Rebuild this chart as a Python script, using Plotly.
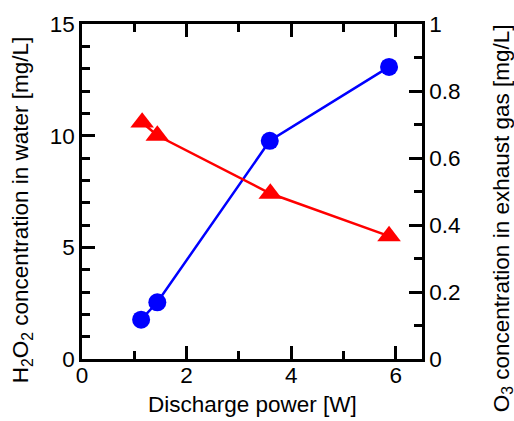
import plotly.graph_objects as go

power_h2o2 = [1.13, 1.44, 3.59, 5.87]
h2o2 = [1.76, 2.54, 9.77, 13.08]
power_o3 = [1.15, 1.44, 3.60, 5.87]
o3 = [0.706, 0.667, 0.494, 0.367]

FONT = "Liberation Sans, Arial, sans-serif"
fs = 22.5

fig = go.Figure()
fig.add_trace(go.Scatter(x=power_h2o2, y=h2o2, mode="lines+markers",
                         line=dict(color="#0000ff", width=2.5),
                         marker=dict(symbol="circle", size=18, color="#0000ff"),
                         yaxis="y", showlegend=False))
fig.add_trace(go.Scatter(x=power_o3, y=o3, mode="lines+markers",
                         line=dict(color="#ff0000", width=2.5),
                         marker=dict(symbol="triangle-up", size=20.5, color="#ff0000"),
                         yaxis="y2", showlegend=False))

axcommon = dict(showline=True, linecolor="black", linewidth=2.5, ticks="inside",
                ticklen=13, tickwidth=2.5, tickcolor="black", showgrid=False,
                zeroline=False, tickfont=dict(family=FONT, size=fs, color="black"))

fig.update_layout(
    width=514, height=421,
    margin=dict(l=82, r=92, t=21, b=62),
    paper_bgcolor="white", plot_bgcolor="white",
    font=dict(family=FONT, size=fs, color="black"),
    xaxis=dict(range=[0, 6.5], dtick=2, tick0=0, mirror="ticks", ticklabelstandoff=-6,
               minor=dict(dtick=1, ticks="inside", ticklen=8, tickwidth=2.5, tickcolor="black"),
               **axcommon),
    yaxis=dict(range=[0, 15], dtick=5, tick0=0,
               minor=dict(dtick=1, ticks="inside", ticklen=8, tickwidth=2.5, tickcolor="black"),
               **axcommon),
    yaxis2=dict(range=[0, 1], dtick=0.2, tick0=0, overlaying="y", side="right",
                minor=dict(dtick=0.1, ticks="inside", ticklen=8, tickwidth=2.5, tickcolor="black"),
                **axcommon),
)

fig.add_annotation(text="Discharge power [W]", xref="paper", yref="paper",
                   x=0.5, y=-0.136, xanchor="center", yanchor="middle",
                   showarrow=False, font=dict(family=FONT, size=fs, color="black"))
fig.add_annotation(text="H<sub>2</sub>O<sub>2</sub> concentration in water [mg/L]",
                   xref="paper", yref="paper", x=-0.176, y=0.967,
                   xanchor="center", yanchor="top", textangle=-90,
                   showarrow=False, font=dict(family=FONT, size=fs, color="black"))
fig.add_annotation(text="O<sub>3</sub> concentration in exhaust gas [mg/L]",
                   xref="paper", yref="paper", x=1.238, y=1.005,
                   xanchor="center", yanchor="top", textangle=-90,
                   showarrow=False, font=dict(family=FONT, size=fs, color="black"))

fig.write_html("out.html")
